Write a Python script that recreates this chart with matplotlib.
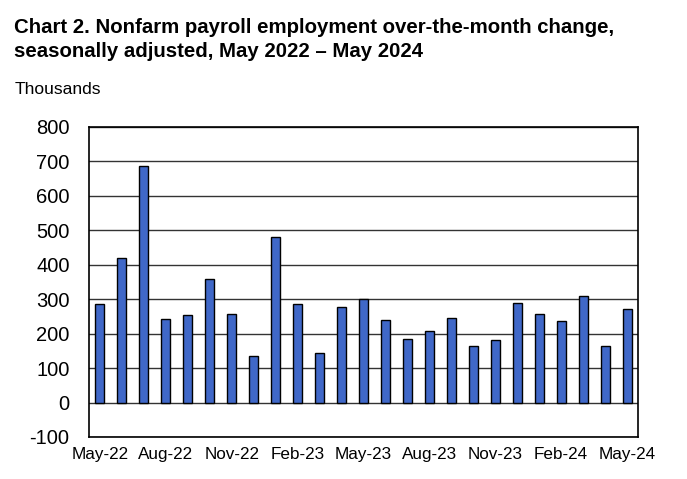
import matplotlib
matplotlib.use('Agg')
import matplotlib.pyplot as plt
from matplotlib import font_manager

# monthly change, thousands
months = ['May-22', 'Jun-22', 'Jul-22', 'Aug-22', 'Sep-22', 'Oct-22', 'Nov-22', 'Dec-22',
          'Jan-23', 'Feb-23', 'Mar-23', 'Apr-23', 'May-23', 'Jun-23', 'Jul-23', 'Aug-23',
          'Sep-23', 'Oct-23', 'Nov-23', 'Dec-23', 'Jan-24', 'Feb-24', 'Mar-24', 'Apr-24',
          'May-24']
change = [286, 419, 688, 242, 255, 359, 257, 135,
          480, 287, 145, 278, 302, 240, 184, 209,
          246, 165, 182, 289, 256, 236, 310, 165,
          272]
yticks = [-100, 0, 100, 200, 300, 400, 500, 600, 700, 800]

names = {f.name for f in font_manager.fontManager.ttflist}
narrow = 'Liberation Sans Narrow' if 'Liberation Sans Narrow' in names else 'Liberation Sans'

plt.rcParams['font.family'] = ['Liberation Sans', 'DejaVu Sans']

fig = plt.figure(figsize=(6.87, 4.79), dpi=100)
ax = fig.add_axes([89 / 687, 1 - 437 / 479, 549 / 687, 310 / 479])

x = list(range(len(months)))
ax.bar(x, change, width=0.41, color='#4068C8', edgecolor='black', linewidth=1, zorder=3)

ax.set_xlim(-0.5, len(months) - 0.5)
ax.set_ylim(-100, 800)
ax.set_yticks(yticks)
ax.set_yticklabels([str(v) for v in yticks], fontsize=14.5)
ax.set_xticks(x[::3])
ax.set_xticklabels(months[::3], fontsize=12.3)
ax.tick_params(axis='y', length=0, pad=14)
ax.tick_params(axis='x', length=0, pad=7)
ax.yaxis.grid(True, color='#333333', linewidth=1)
ax.set_axisbelow(True)
for s in ax.spines.values():
    s.set_linewidth(1.2)
    s.set_color('black')


def fit_width(txt, target_px):
    # scale font so the text spans roughly target_px
    r = fig.canvas.get_renderer()
    w = txt.get_window_extent(renderer=r).width
    txt.set_fontsize(txt.get_fontsize() * target_px / w)


t1 = fig.text(14 / 687, 1 - 33 / 479,
              'Chart 2. Nonfarm payroll employment over-the-month change,',
              fontsize=14, fontweight='bold', family=[narrow, 'DejaVu Sans'],
              va='baseline', ha='left')
t2 = fig.text(14 / 687, 1 - 57 / 479,
              'seasonally adjusted, May 2022 \u2013 May 2024',
              fontsize=14, fontweight='bold', family=[narrow, 'DejaVu Sans'],
              va='baseline', ha='left')
t3 = fig.text(15 / 687, 1 - 94 / 479, 'Thousands', fontsize=12,
              family=[narrow, 'DejaVu Sans'], va='baseline', ha='left')
fig.canvas.draw()
fit_width(t1, 603)
t2.set_fontsize(t1.get_fontsize())
fit_width(t3, 86)

fig.savefig('out.png', dpi=100, facecolor='white')
